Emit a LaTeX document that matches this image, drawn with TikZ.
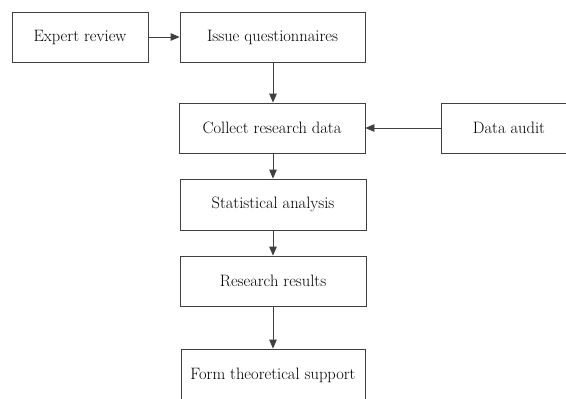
\documentclass[tikz,border=0pt]{standalone}
\usetikzlibrary{arrows.meta}
\begin{document}
\begin{tikzpicture}[x=1pt,y=-1pt,
  box/.style={draw=black!75,line width=0.8pt,fill=white,minimum height=50pt,inner sep=0pt,font=\fontsize{16.5}{19}\selectfont},
  link/.style={draw=black!75,line width=0.8pt,-{Triangle[length=9pt,width=7.5pt]}}]
\useasboundingbox (0,0) rectangle (566,399);
\clip (0,0) rectangle (566,399);
\fill[white] (0,0) rectangle (566,399);
\node[box,minimum width=136pt] (expert) at (80,37) {Expert review};
\node[box,minimum width=185pt] (issue) at (272.5,37) {Issue questionnaires};
\node[box,minimum width=186pt] (collect) at (272,128) {Collect research data};
\node[box,minimum width=136pt] (audit) at (509,128) {Data audit};
\node[box,minimum width=186pt,minimum height=51pt] (stat) at (273,204.5) {Statistical analysis};
\node[box,minimum width=186pt] (results) at (273,281) {Research results};
\node[box,minimum width=184pt,minimum height=52pt] (form) at (273,375) {Form theoretical support};
\draw[link] (expert) -- (issue);
\draw[link] (audit) -- (collect);
\draw[link] (issue.south -| 273,0) -- (collect.north -| 273,0);
\draw[link] (collect.south -| 273,0) -- (stat.north -| 273,0);
\draw[link] (stat) -- (results);
\draw[link] (results) -- (form);
\end{tikzpicture}
\end{document}
